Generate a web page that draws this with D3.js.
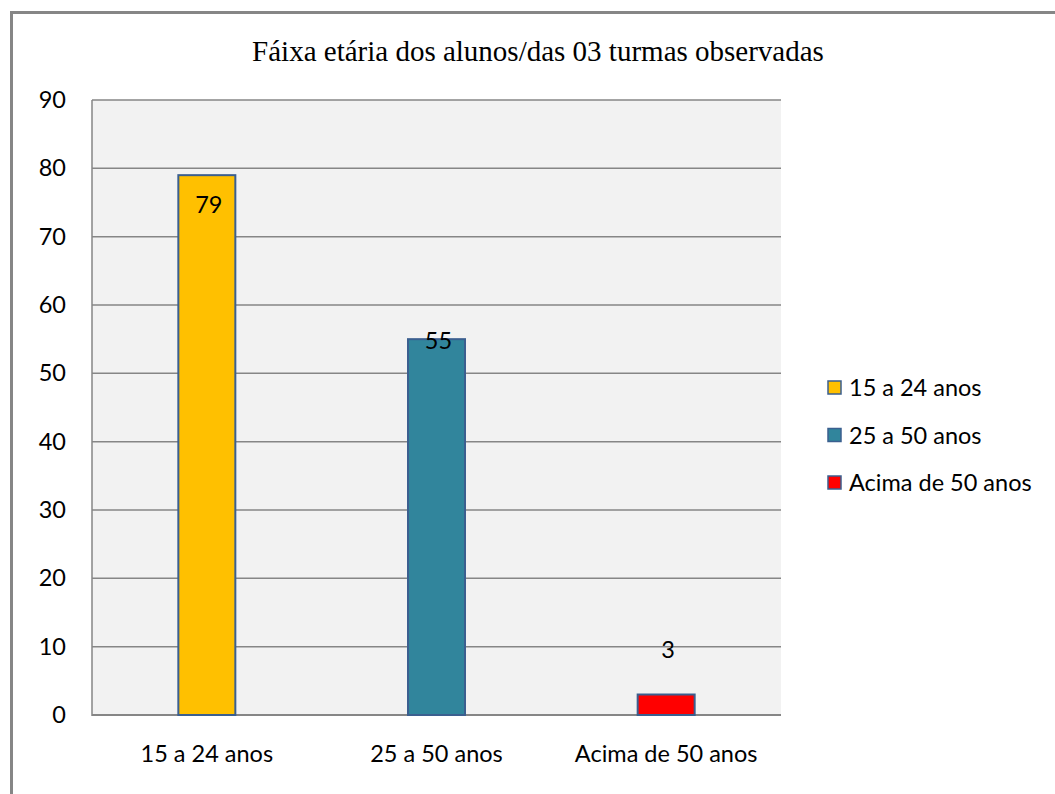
<!DOCTYPE html>
<html>
<head>
<meta charset="utf-8">
<script src="https://cdn.jsdelivr.net/npm/d3@7"></script>
<style>
  body { margin: 0; background: #fff; }
  svg { display: block; }
</style>
</head>
<body>
<div id="container"></div>
<script>
const categories = ["15 a 24 anos", "25 a 50 anos", "Acima de 50 anos"];
const values = [79, 55, 3];
const colors = ["#FFC000", "#31859C", "#FF0000"];
// where Excel put each data label, in value units
const labelAt = [74.6, 54.7, 9.5];
const yTicks = [0, 10, 20, 30, 40, 50, 60, 70, 80, 90];
const title = "Fáixa etária dos alunos/das 03 turmas observadas";

const width = 1055;
const height = 794;
const plot = { left: 92, top: 100, right: 781, bottom: 715 };
const font = "Lato, 'Open Sans', sans-serif";
const fontSize = "23.5px";

const svg = d3.select("div#container")
    .append("svg")
    .attr("width", width)
    .attr("height", height);

// outer chart border
svg.append("rect")
    .attr("x", 11.5)
    .attr("y", 12.5)
    .attr("width", width + 10)
    .attr("height", height + 10)
    .attr("fill", "#fff")
    .attr("stroke", "#868686")
    .attr("stroke-width", 3);

svg.append("text")
    .attr("x", 538)
    .attr("y", 61)
    .attr("text-anchor", "middle")
    .style("font-family", "'Liberation Serif', serif")
    .style("font-size", "29px")
    .attr("fill", "#000")
    .text(title);

const xScale = d3.scaleBand()
    .domain(categories)
    .range([plot.left, plot.right]);

const yScale = d3.scaleLinear()
    .domain([0, 90])
    .range([plot.bottom, plot.top]);

svg.append("rect")
    .attr("x", plot.left)
    .attr("y", plot.top)
    .attr("width", plot.right - plot.left)
    .attr("height", plot.bottom - plot.top)
    .attr("fill", "#f2f2f2");

// gridlines
svg.append("g")
    .selectAll("line")
    .data(yTicks)
    .enter()
    .append("line")
    .attr("x1", plot.left)
    .attr("x2", plot.right)
    .attr("y1", d => yScale(d))
    .attr("y2", d => yScale(d))
    .attr("stroke", "#868686")
    .attr("stroke-width", d => d === 0 ? 2 : 1.5);

svg.append("line")
    .attr("x1", plot.left)
    .attr("x2", plot.left)
    .attr("y1", plot.top)
    .attr("y2", plot.bottom + 1)
    .attr("stroke", "#868686")
    .attr("stroke-width", 1.5);

const yaxis = d3.axisLeft(yScale).tickValues(yTicks).tickSize(0).tickPadding(26);
const gy = svg.append("g")
    .attr("transform", "translate(" + plot.left + ",0)")
    .call(yaxis);
gy.select(".domain").remove();
gy.selectAll("text")
    .style("font-family", font)
    .style("font-size", fontSize)
    .attr("fill", "#000");

const xaxis = d3.axisBottom(xScale).tickSize(0).tickPadding(30);
const gx = svg.append("g")
    .attr("transform", "translate(0," + plot.bottom + ")")
    .call(xaxis);
gx.select(".domain").remove();
gx.selectAll("text")
    .style("font-family", font)
    .style("font-size", fontSize)
    .attr("fill", "#000");

const barW = 57;
svg.append("g")
    .selectAll("rect")
    .data(values)
    .enter()
    .append("rect")
    .attr("x", (d, i) => xScale(categories[i]) + xScale.bandwidth() / 2 - barW / 2)
    .attr("y", d => yScale(d))
    .attr("width", barW)
    .attr("height", d => yScale(0) - yScale(d))
    .attr("fill", (d, i) => colors[i])
    .attr("stroke", "#3B5F8F")
    .attr("stroke-width", 2);

svg.append("g")
    .selectAll("text")
    .data(values)
    .enter()
    .append("text")
    .attr("x", (d, i) => xScale(categories[i]) + xScale.bandwidth() / 2 + 2)
    .attr("y", (d, i) => yScale(labelAt[i]))
    .attr("dy", "0.35em")
    .attr("text-anchor", "middle")
    .style("font-family", font)
    .style("font-size", fontSize)
    .attr("fill", "#000")
    .text(d => d);

// legend
const legend = svg.append("g")
    .selectAll("g")
    .data(categories)
    .enter()
    .append("g")
    .attr("transform", (d, i) => "translate(828," + (388 + i * 47.5) + ")");

legend.append("rect")
    .attr("x", 0)
    .attr("y", -7)
    .attr("width", 13)
    .attr("height", 13)
    .attr("fill", (d, i) => colors[i])
    .attr("stroke", "#3B5F8F")
    .attr("stroke-width", 1.5);

legend.append("text")
    .attr("x", 21)
    .attr("y", 0)
    .attr("dy", "0.35em")
    .style("font-family", font)
    .style("font-size", fontSize)
    .attr("fill", "#000")
    .text(d => d);
</script>
</body>
</html>
